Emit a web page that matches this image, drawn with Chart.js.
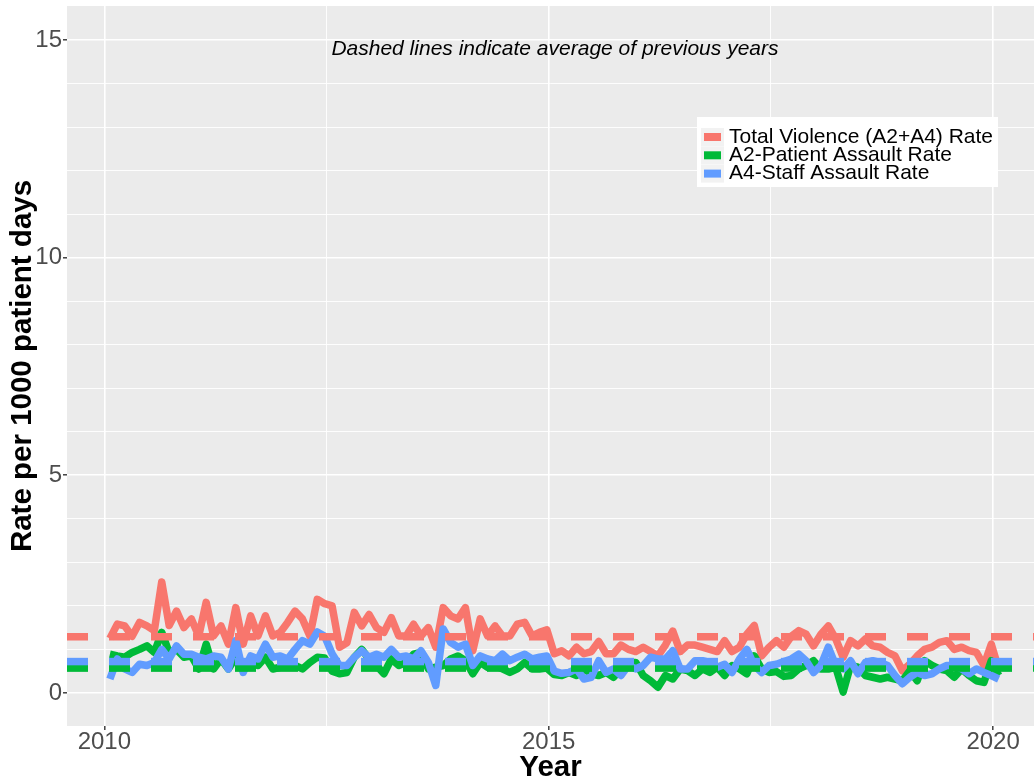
<!DOCTYPE html>
<html lang="en">
<head>
    <meta charset="UTF-8">
    <title>Violence Rate per 1000 Patient Days</title>
    <script src="https://cdn.jsdelivr.net/npm/chart.js"></script>
    <style>
        body {
            margin: 0;
            background-color: #fff;
        }
        canvas {
            display: block;
        }
    </style>
</head>
<body>
    <canvas id="rateChart" width="1034" height="784"></canvas>

    <script>
        // monthly rates, Jan 2010 .. Jan 2020
        const firstMonth = 2010.0625;
        const totalRate = [
            1.25, 1.58, 1.54, 1.30, 1.62, 1.54, 1.43, 2.55, 1.55, 1.88,
            1.50, 1.70, 1.31, 2.08, 1.31, 1.54, 1.12, 1.96, 1.12, 1.77,
            1.31, 1.77, 1.31, 1.39, 1.62, 1.88, 1.70, 1.31, 2.15, 2.05,
            2.00, 1.05, 1.15, 1.85, 1.54, 1.80, 1.50, 1.39, 1.73, 1.31,
            1.31, 1.58, 1.31, 1.50, 1.05, 1.96, 1.77, 1.70, 1.96, 0.97,
            1.70, 1.31, 1.54, 1.31, 1.31, 1.58, 1.62, 1.31, 1.39, 1.45,
            0.90, 0.97, 0.85, 1.05, 0.90, 0.95, 1.18, 0.90, 0.90, 1.10,
            1.00, 0.95, 1.05, 0.95, 0.85, 1.10, 1.42, 0.95, 1.10, 1.10,
            1.05, 1.00, 0.95, 1.20, 0.95, 1.05, 1.35, 1.55, 0.85, 1.05,
            1.20, 1.05, 1.30, 1.43, 1.35, 1.08, 1.35, 1.54, 1.24, 0.82,
            1.20, 1.08, 1.24, 1.08, 1.05, 0.93, 0.85, 0.51, 0.66, 0.85,
            1.00, 1.05, 1.16, 1.20, 1.00, 1.05, 0.97, 0.93, 0.63, 1.12,
            0.55
        ];
        const patientRate = [
            0.89, 0.85, 0.82, 0.93, 1.00, 1.08, 0.93, 1.39, 0.93, 1.00,
            0.82, 0.85, 0.55, 1.12, 0.55, 0.78, 0.55, 0.82, 0.51, 0.70,
            0.63, 0.82, 0.55, 0.59, 0.78, 0.63, 0.55, 0.70, 0.82, 0.80,
            0.50, 0.44, 0.47, 0.82, 1.00, 0.78, 0.63, 0.44, 0.78, 0.63,
            0.70, 0.89, 0.93, 0.55, 0.59, 0.63, 0.78, 0.85, 0.74, 0.44,
            0.70, 0.59, 0.63, 0.55, 0.47, 0.55, 0.70, 0.55, 0.55, 0.57,
            0.42, 0.40, 0.47, 0.40, 0.55, 0.44, 0.40, 0.47, 0.36, 0.55,
            0.70, 0.70, 0.40, 0.28, 0.13, 0.40, 0.32, 0.55, 0.51, 0.40,
            0.55, 0.47, 0.59, 0.40, 0.63, 0.55, 0.44, 0.85, 0.55, 0.47,
            0.49, 0.38, 0.40, 0.55, 0.63, 0.74, 0.55, 0.55, 0.59, 0.02,
            0.63, 0.59, 0.40, 0.36, 0.32, 0.36, 0.32, 0.28, 0.51, 0.28,
            0.74, 0.63, 0.55, 0.51, 0.36, 0.55, 0.40, 0.28, 0.24, 0.74,
            0.40
        ];
        const staffRate = [
            0.32, 0.78, 0.55, 0.47, 0.66, 0.63, 0.70, 1.00, 0.78, 1.08,
            0.89, 0.89, 0.82, 0.78, 0.85, 0.82, 0.55, 1.20, 0.47, 0.85,
            0.78, 1.12, 0.82, 0.85, 0.78, 1.00, 1.20, 1.12, 1.40, 1.30,
            0.90, 0.63, 0.63, 0.82, 0.97, 0.82, 0.89, 0.82, 1.00, 0.82,
            0.85, 0.78, 0.97, 0.70, 0.17, 1.47, 1.16, 1.05, 1.12, 0.63,
            0.85, 0.78, 0.74, 0.89, 0.74, 0.82, 0.89, 0.78, 0.82, 0.85,
            0.50, 0.45, 0.47, 0.55, 0.32, 0.36, 0.74, 0.47, 0.55, 0.40,
            0.63, 0.55, 0.63, 0.82, 0.78, 0.78, 0.97, 0.55, 0.55, 0.74,
            0.74, 0.70, 0.59, 0.66, 0.47, 0.78, 1.00, 0.63, 0.47, 0.63,
            0.66, 0.72, 0.78, 0.89, 0.74, 0.47, 0.63, 1.05, 0.63, 0.55,
            0.74, 0.44, 0.70, 0.74, 0.70, 0.63, 0.40, 0.21, 0.36, 0.47,
            0.40, 0.44, 0.55, 0.63, 0.63, 0.55, 0.44, 0.55, 0.47, 0.40,
            0.32
        ];

        // averages of previous years (dashed lines)
        const totalAvg = 1.29;
        const patientAvg = 0.57;
        const staffAvg = 0.72;

        const seriesLabels = ['Total Violence (A2+A4) Rate', 'A2-Patient Assault Rate', 'A4-Staff Assault Rate'];
        const seriesColors = ['#F8766D', '#00BA38', '#619CFF'];
        const xMin = 2009.58, xMax = 2020.46;
        const yMin = -0.76, yMax = 15.78;
        const noteText = 'Dashed lines indicate average of previous years';

        const toPoints = vals => vals.map((v, i) => ({ x: firstMonth + i / 12, y: v }));
        const avgLine = v => [{ x: xMin, y: v }, { x: xMax, y: v }];

        function lineSet(label, data, color, order) {
            return {
                label: label,
                data: data,
                borderColor: color,
                backgroundColor: color,
                borderWidth: 7.5,
                borderJoinStyle: 'round',
                borderCapStyle: 'butt',
                pointRadius: 0,
                fill: false,
                order: order
            };
        }
        function dashSet(data, color, order) {
            const ds = lineSet('avg', data, color, order);
            ds.borderDash = [21, 21];
            return ds;
        }

        const panelBg = {
            id: 'panelBg',
            beforeDraw(chart) {
                const { ctx, chartArea: a } = chart;
                ctx.save();
                ctx.fillStyle = '#EBEBEB';
                ctx.fillRect(a.left, a.top, a.right - a.left, a.bottom - a.top);
                ctx.restore();
            }
        };

        const noteAndLegend = {
            id: 'noteAndLegend',
            afterDraw(chart) {
                const { ctx } = chart;
                const xs = chart.scales.x, ys = chart.scales.y;
                ctx.save();
                // note text
                ctx.fillStyle = '#000';
                ctx.font = 'italic 21px "Liberation Sans", Arial, sans-serif';
                ctx.textAlign = 'center';
                ctx.textBaseline = 'middle';
                ctx.fillText(noteText, xs.getPixelForValue(2015.07), ys.getPixelForValue(14.79));

                // legend box
                const bx = 697, by = 117;
                ctx.fillStyle = '#fff';
                ctx.fillRect(bx, by, 301, 70);
                ctx.font = '21px "Liberation Sans", Arial, sans-serif';
                ctx.textAlign = 'left';
                seriesLabels.forEach((lab, i) => {
                    const cy = 137 + i * 18.3;
                    ctx.fillStyle = '#F2F2F2';
                    ctx.fillRect(bx + 4, cy - 9, 23, 18);
                    ctx.fillStyle = seriesColors[i];
                    ctx.fillRect(bx + 7, cy - 4, 17, 8);
                    ctx.fillStyle = '#000';
                    ctx.fillText(lab, bx + 32, cy);
                });
                ctx.restore();
            }
        };

        const tickFont = { family: '"Liberation Sans", Arial, sans-serif', size: 24, lineHeight: 1 };
        const titleFont = { family: '"Liberation Sans", Arial, sans-serif', size: 29.5, weight: 'bold', lineHeight: 1 };
        const isMajor = v => Math.abs(v % 5) < 1e-6;
        const noEdgePadding = s => {
            s.paddingTop = 0;
            s.paddingBottom = 0;
            s.paddingLeft = 0;
            s.paddingRight = 0;
        };

        new Chart(document.getElementById('rateChart').getContext('2d'), {
            type: 'line',
            data: {
                datasets: [
                    dashSet(avgLine(totalAvg), seriesColors[0], 2),
                    dashSet(avgLine(patientAvg), seriesColors[1], 1),
                    dashSet(avgLine(staffAvg), seriesColors[2], 0),
                    lineSet(seriesLabels[0], toPoints(totalRate), seriesColors[0], 6),
                    lineSet(seriesLabels[1], toPoints(patientRate), seriesColors[1], 5),
                    lineSet(seriesLabels[2], toPoints(staffRate), seriesColors[2], 4)
                ]
            },
            options: {
                responsive: false,
                animation: false,
                layout: { padding: { top: 6, right: 0, bottom: 0, left: 0 } },
                plugins: {
                    legend: { display: false },
                    tooltip: { enabled: false }
                },
                scales: {
                    x: {
                        type: 'linear',
                        min: xMin,
                        max: xMax,
                        afterFit: s => { s.height = 58; noEdgePadding(s); },
                        ticks: {
                            stepSize: 2.5,
                            includeBounds: false,
                            autoSkip: false,
                            maxRotation: 0,
                            padding: 0,
                            color: '#4D4D4D',
                            font: tickFont,
                            callback: v => isMajor(v) ? String(v) : ''
                        },
                        grid: {
                            color: '#FFFFFF',
                            lineWidth: c => isMajor(c.tick.value) ? 1.6 : 0.9,
                            tickLength: 4,
                            tickWidth: 1.4,
                            tickColor: c => isMajor(c.tick.value) ? '#333333' : 'rgba(0,0,0,0)'
                        },
                        border: { display: false },
                        title: {
                            display: true,
                            text: 'Year',
                            color: '#000',
                            font: titleFont,
                            padding: { top: 0, bottom: 1 }
                        }
                    },
                    y: {
                        min: yMin,
                        max: yMax,
                        afterFit: s => { s.width = 67; noEdgePadding(s); },
                        ticks: {
                            stepSize: 1,
                            includeBounds: false,
                            autoSkip: false,
                            padding: 1,
                            color: '#4D4D4D',
                            font: tickFont,
                            callback: v => isMajor(v) ? String(v) : ''
                        },
                        grid: {
                            color: '#FFFFFF',
                            lineWidth: c => isMajor(c.tick.value) ? 1.6 : 0.9,
                            tickLength: 4,
                            tickWidth: 1.4,
                            tickColor: c => isMajor(c.tick.value) ? '#333333' : 'rgba(0,0,0,0)'
                        },
                        border: { display: false },
                        title: {
                            display: true,
                            text: 'Rate per 1000 patient days',
                            color: '#000',
                            font: titleFont,
                            padding: { top: 8, bottom: 0 }
                        }
                    }
                }
            },
            plugins: [panelBg, noteAndLegend]
        });
    </script>
</body>
</html>
